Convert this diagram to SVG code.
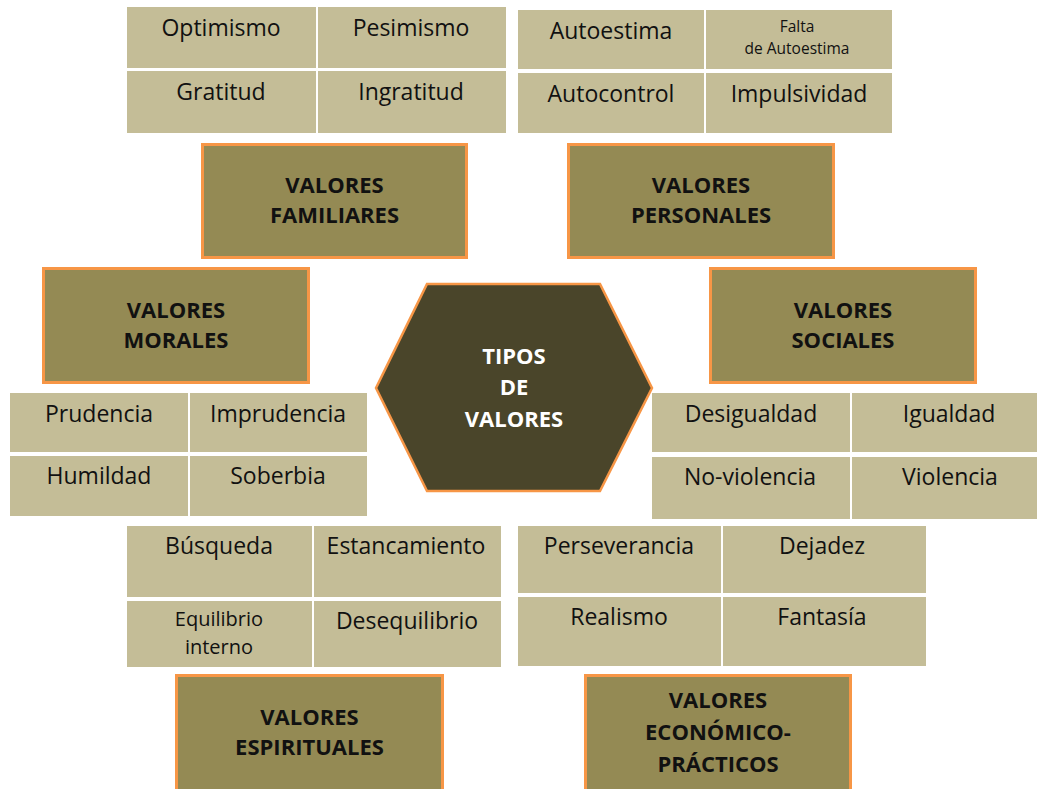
<svg xmlns="http://www.w3.org/2000/svg" width="1037" height="789" viewBox="0 0 1037 789">
<style>
.cell{fill:#c4bd97}
.t{font-family:"Open Sans","Liberation Sans",sans-serif;font-size:23px;fill:#111;text-anchor:middle}
.s{font-size:15.5px}
.m{font-size:20px}
.box{fill:#948a54;stroke:#f79646;stroke-width:3}
.bt{font-family:"Open Sans","Liberation Sans",sans-serif;font-weight:bold;font-size:22px;fill:#111;text-anchor:middle}
.ht{font-family:"Open Sans","Liberation Sans",sans-serif;font-weight:bold;font-size:22px;fill:#fff;text-anchor:middle}
</style>
<rect width="1037" height="789" fill="#fff"/>

<g id="grid-familiares">
<rect class="cell" x="127" y="7" width="189" height="61"/>
<rect class="cell" x="318" y="7" width="188" height="61"/>
<rect class="cell" x="127" y="71" width="189" height="62"/>
<rect class="cell" x="318" y="71" width="188" height="62"/>
<text class="t" x="221" y="36">Optimismo</text>
<text class="t" x="411" y="36">Pesimismo</text>
<text class="t" x="221" y="100">Gratitud</text>
<text class="t" x="411" y="100">Ingratitud</text>
</g>

<g id="grid-personales">
<rect class="cell" x="518" y="10" width="186" height="59"/>
<rect class="cell" x="706" y="10" width="186" height="59"/>
<rect class="cell" x="518" y="73" width="186" height="60"/>
<rect class="cell" x="706" y="73" width="186" height="60"/>
<text class="t" x="611" y="39">Autoestima</text>
<text class="t s" x="797" y="32">Falta</text>
<text class="t s" x="797" y="54">de Autoestima</text>
<text class="t" x="611" y="102">Autocontrol</text>
<text class="t" x="799" y="102">Impulsividad</text>
</g>

<g id="valores-familiares">
<rect class="box" x="202.5" y="144.5" width="264" height="113"/>
<text class="bt" x="334.5" y="193">VALORES</text>
<text class="bt" x="334.5" y="223">FAMILIARES</text>
</g>

<g id="valores-personales">
<rect class="box" x="568.5" y="144.5" width="265" height="113"/>
<text class="bt" x="701" y="193">VALORES</text>
<text class="bt" x="701" y="223">PERSONALES</text>
</g>

<g id="valores-morales">
<rect class="box" x="43.5" y="268.5" width="265" height="114"/>
<text class="bt" x="176" y="318">VALORES</text>
<text class="bt" x="176" y="348">MORALES</text>
</g>

<g id="valores-sociales">
<rect class="box" x="710.5" y="268.5" width="265" height="114"/>
<text class="bt" x="843" y="318">VALORES</text>
<text class="bt" x="843" y="348">SOCIALES</text>
</g>

<g id="tipos-de-valores">
<polygon points="427,284 600,284 652,388 600,491 427,491 376,388" fill="#4a452a" stroke="#f79646" stroke-width="2.5"/>
<text class="ht" x="514" y="364">TIPOS</text>
<text class="ht" x="514" y="395">DE</text>
<text class="ht" x="514" y="427">VALORES</text>
</g>

<g id="grid-morales">
<rect class="cell" x="10" y="393" width="178" height="59"/>
<rect class="cell" x="190" y="393" width="177" height="59"/>
<rect class="cell" x="10" y="456" width="178" height="60"/>
<rect class="cell" x="190" y="456" width="177" height="60"/>
<text class="t" x="99" y="422">Prudencia</text>
<text class="t" x="278" y="422">Imprudencia</text>
<text class="t" x="99" y="484">Humildad</text>
<text class="t" x="278" y="484">Soberbia</text>
</g>

<g id="grid-sociales">
<rect class="cell" x="652" y="393" width="198" height="59"/>
<rect class="cell" x="852" y="393" width="185" height="59"/>
<rect class="cell" x="652" y="457" width="198" height="62"/>
<rect class="cell" x="852" y="457" width="185" height="62"/>
<text class="t" x="751" y="422">Desigualdad</text>
<text class="t" x="949" y="422">Igualdad</text>
<text class="t" x="750" y="485">No-violencia</text>
<text class="t" x="950" y="485">Violencia</text>
</g>

<g id="grid-espirituales">
<rect class="cell" x="127" y="526" width="185" height="71"/>
<rect class="cell" x="314" y="526" width="187" height="71"/>
<rect class="cell" x="127" y="601" width="185" height="66"/>
<rect class="cell" x="314" y="601" width="187" height="66"/>
<text class="t" x="219" y="554">Búsqueda</text>
<text class="t" x="406" y="554">Estancamiento</text>
<text class="t m" x="219" y="626">Equilibrio</text>
<text class="t m" x="219" y="654">interno</text>
<text class="t" x="407" y="629">Desequilibrio</text>
</g>

<g id="grid-economicos">
<rect class="cell" x="518" y="526" width="203" height="67"/>
<rect class="cell" x="723" y="526" width="203" height="67"/>
<rect class="cell" x="518" y="597" width="203" height="69"/>
<rect class="cell" x="723" y="597" width="203" height="69"/>
<text class="t" x="619" y="554">Perseverancia</text>
<text class="t" x="822" y="554">Dejadez</text>
<text class="t" x="619" y="625">Realismo</text>
<text class="t" x="822" y="625">Fantasía</text>
</g>

<g id="valores-espirituales">
<rect class="box" x="176.5" y="675.5" width="266" height="130"/>
<text class="bt" x="309.5" y="725">VALORES</text>
<text class="bt" x="309.5" y="755">ESPIRITUALES</text>
</g>

<g id="valores-economico-practicos">
<rect class="box" x="585.5" y="675.5" width="265" height="130"/>
<text class="bt" x="718" y="708">VALORES</text>
<text class="bt" x="718" y="740">ECONÓMICO-</text>
<text class="bt" x="718" y="772">PRÁCTICOS</text>
</g>

<g id="connectors"/>
</svg>
